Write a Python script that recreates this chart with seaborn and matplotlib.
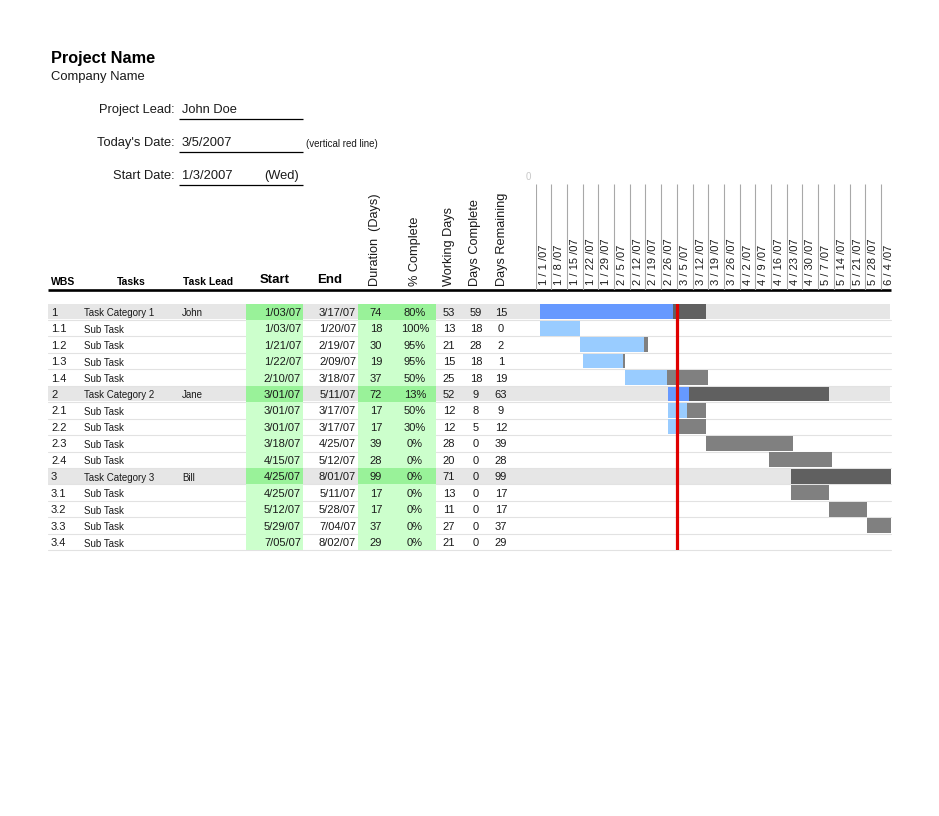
import numpy as np
import pandas as pd
import matplotlib
matplotlib.use("Agg")
import matplotlib.pyplot as plt
import seaborn as sns
from matplotlib.patches import Rectangle

# ---------------- data ----------------
wbs = ["1", "1.1", "1.2", "1.3", "1.4", "2", "2.1", "2.2", "2.3", "2.4",
       "3", "3.1", "3.2", "3.3", "3.4"]
tasks = ["Task Category 1", "Sub Task", "Sub Task", "Sub Task", "Sub Task",
         "Task Category 2", "Sub Task", "Sub Task", "Sub Task", "Sub Task",
         "Task Category 3", "Sub Task", "Sub Task", "Sub Task", "Sub Task"]
leads = ["John", "", "", "", "", "Jane", "", "", "", "", "Bill", "", "", "", ""]
is_category = [True, False, False, False, False, True, False, False, False, False,
               True, False, False, False, False]
start = ["1/03/07", "1/03/07", "1/21/07", "1/22/07", "2/10/07", "3/01/07", "3/01/07",
         "3/01/07", "3/18/07", "4/15/07", "4/25/07", "4/25/07", "5/12/07", "5/29/07",
         "7/05/07"]
end = ["3/17/07", "1/20/07", "2/19/07", "2/09/07", "3/18/07", "5/11/07", "3/17/07",
       "3/17/07", "4/25/07", "5/12/07", "8/01/07", "5/11/07", "5/28/07", "7/04/07",
       "8/02/07"]
duration = [74, 18, 30, 19, 37, 72, 17, 17, 39, 28, 99, 17, 17, 37, 29]
pct_complete = [80, 100, 95, 95, 50, 13, 50, 30, 0, 0, 0, 0, 0, 0, 0]
working_days = [53, 13, 21, 15, 25, 52, 12, 12, 28, 20, 71, 13, 11, 27, 21]
days_complete = [59, 18, 28, 18, 18, 9, 8, 5, 0, 0, 0, 0, 0, 0, 0]
days_remaining = [15, 0, 2, 1, 19, 63, 9, 12, 39, 28, 99, 17, 17, 37, 29]

week_labels = ["1 / 1 /07", "1 / 8 /07", "1 / 15 /07", "1 / 22 /07", "1 / 29 /07",
               "2 / 5 /07", "2 / 12 /07", "2 / 19 /07", "2 / 26 /07", "3 / 5 /07",
               "3 / 12 /07", "3 / 19 /07", "3 / 26 /07", "4 / 2 /07", "4 / 9 /07",
               "4 / 16 /07", "4 / 23 /07", "4 / 30 /07", "5 / 7 /07", "5 / 14 /07",
               "5 / 21 /07", "5 / 28 /07", "6 / 4 /07"]

project_name = "Project Name"
company_name = "Company Name"
project_lead = "John Doe"
today_str = "3/5/2007"
start_date_str = "1/3/2007"
start_weekday = "(Wed)"
chart_origin = "1/01/07"
chart_days = 158.5

# ---------------- derived ----------------
origin = pd.to_datetime(chart_origin, format="%m/%d/%y")
start_day = (pd.to_datetime(pd.Series(start), format="%m/%d/%y") - origin).dt.days.to_numpy()
dur = np.array(duration, dtype=float)
done = dur * np.array(pct_complete) / 100.0
today_day = (pd.to_datetime(today_str, format="%m/%d/%Y") - origin).days
week_day = np.array([(pd.to_datetime(l.replace(" ", ""), format="%m/%d/%y") - origin).days
                     for l in week_labels])

# ---------------- style ----------------
sns.set_theme(style="white")
plt.rcParams["font.family"] = ["Liberation Sans", "DejaVu Sans"]
TXT = "#1a1a1a"

W, H = 939, 816
fig = plt.figure(figsize=(W / 100, H / 100), dpi=100)
bg = fig.add_axes([0, 0, 1, 1])
bg.set_xlim(0, W)
bg.set_ylim(H, 0)
bg.axis("off")

# header block
bg.text(51, 58, project_name, fontsize=11.7, weight="bold", va="center", color="black")
bg.text(51, 77, company_name, fontsize=9.4, va="center", color=TXT)
for y, lab, val in [(110, "Project Lead:", project_lead),
                    (143, "Today's Date:", today_str),
                    (176, "Start Date:", start_date_str)]:
    bg.text(175, y, lab, fontsize=9.3, ha="right", va="center", color=TXT)
    bg.text(182, y, val, fontsize=9.3, ha="left", va="center", color=TXT)
    bg.plot([179, 303], [y + 8.5, y + 8.5], color="black", lw=0.9, solid_capstyle="butt")
bg.text(264, 176, start_weekday, fontsize=9.3, ha="left", va="center", color=TXT)
bg.text(306, 144, "(vertical red line)", fontsize=7, ha="left", va="center", color=TXT)
bg.text(528, 177, "0", fontsize=7, ha="center", va="center", color="#c8c8c8")

# column headers
HY = 282
bg.text(51, HY, "WBS", fontsize=7.5, weight="bold", ha="left", va="center", color="black")
bg.text(131, HY, "Tasks", fontsize=7.5, weight="bold", ha="center", va="center", color="black")
bg.text(208, HY, "Task Lead", fontsize=7.5, weight="bold", ha="center", va="center", color="black")
bg.text(275, 280, "Start", fontsize=9.5, weight="bold", ha="center", va="center", color="black")
bg.text(330, 280, "End", fontsize=9.5, weight="bold", ha="center", va="center", color="black")
for x, lab in [(375, "Duration  (Days)"), (415, "% Complete"), (449, "Working Days"),
               (475, "Days Complete"), (502, "Days Remaining")]:
    bg.text(x, 286, lab, fontsize=9.2, rotation=90, ha="center", va="bottom", color=TXT)
bg.plot([48, 891], [289.5, 289.5], color="black", lw=1.9, solid_capstyle="butt")

# rows geometry
ROW_TOP, ROW_H = 303.5, 16.45
n = len(wbs)
row_bottom = ROW_TOP + n * ROW_H

for i in range(n):
    y0 = ROW_TOP + i * ROW_H
    bg.plot([48, 891], [y0 + ROW_H, y0 + ROW_H], color="#e2e2e2", lw=0.8, zorder=1)
    if is_category[i]:
        bg.add_patch(Rectangle((48, y0), 842, ROW_H - 0.8, color="#e6e6e6", lw=0, zorder=0.5))
    g = "#99f299" if is_category[i] else "#ccffcc"
    bg.add_patch(Rectangle((246, y0), 57, ROW_H, color=g, lw=0, zorder=2))
    bg.add_patch(Rectangle((358, y0), 78, ROW_H, color=g, lw=0, zorder=2))
    yc = y0 + ROW_H / 2 + 1
    kw = dict(va="center", color=TXT, zorder=3)
    bg.text(51, yc, wbs[i], fontsize=8, ha="left", **kw)
    bg.text(84, yc + 0.5, tasks[i], fontsize=7, ha="left", **kw)
    bg.text(182, yc + 0.5, leads[i], fontsize=7, ha="left", **kw)
    bg.text(301, yc, start[i], fontsize=8, ha="right", **kw)
    bg.text(356, yc, end[i], fontsize=8, ha="right", **kw)
    bg.text(376, yc, str(duration[i]), fontsize=8, ha="center", **kw)
    bg.text(415, yc, f"{pct_complete[i]}%", fontsize=8, ha="center", **kw)
    bg.text(449, yc, str(working_days[i]), fontsize=8, ha="center", **kw)
    bg.text(476, yc, str(days_complete[i]), fontsize=8, ha="center", **kw)
    bg.text(501, yc, str(days_remaining[i]), fontsize=8, ha="center", **kw)

# gantt header axis (weeks)
GX0, GX1 = 535.5, 891
hax = fig.add_axes([GX0 / W, 1 - 289.5 / H, (GX1 - GX0) / W, (289.5 - 184) / H])
hax.set_xlim(0, chart_days)
hax.set_ylim(0, 1)
hax.axis("off")
hax.patch.set_alpha(0)
hax.vlines(week_day, 0, 1, color="#a8a8a8", lw=0.8)
for d, lab in zip(week_day, week_labels):
    hax.text(d + 3.6, 0.04, lab, fontsize=8, rotation=90, ha="center", va="bottom",
             color=TXT, clip_on=False)

# gantt body axis
gax = fig.add_axes([GX0 / W, 1 - row_bottom / H, (GX1 - GX0) / W, (row_bottom - ROW_TOP) / H])
gax.set_xlim(0, chart_days)
gax.set_ylim(n, 0)
gax.axis("off")
gax.patch.set_alpha(0)
ypos = np.arange(n) + 0.5
cat = np.array(is_category)
blue = np.where(cat, "#6699ff", "#99ccff")
grey = np.where(cat, "#606060", "#808080")
gax.barh(ypos, done, left=start_day, height=0.9, color=blue, lw=0)
gax.barh(ypos, dur - done, left=start_day + done, height=0.9, color=grey, lw=0)
gax.axvline(today_day, color="#e00000", lw=2.3)

fig.savefig("out.png", dpi=100)
